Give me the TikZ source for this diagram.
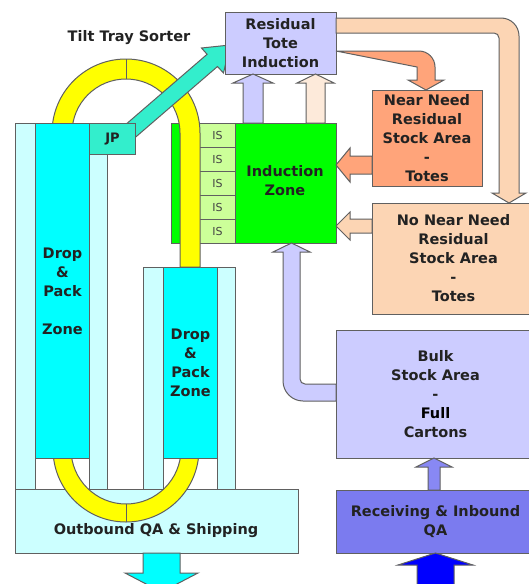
\documentclass[tikz,border=0pt]{standalone}
\usepackage{fontspec}
\setmainfont{DejaVu Sans}
\definecolor{lav}{HTML}{CCCCFF}
\definecolor{lcyan}{HTML}{CCFFFF}
\definecolor{cyanc}{HTML}{00FFFF}
\definecolor{turq}{HTML}{33EECC}
\definecolor{yel}{HTML}{FFFF00}
\definecolor{grn}{HTML}{00FF00}
\definecolor{isg}{HTML}{CCFF99}
\definecolor{salm}{HTML}{FFA47A}
\definecolor{peach}{HTML}{FCD5B4}
\definecolor{lpeach}{HTML}{FDEADA}
\definecolor{recv}{HTML}{7B7BEF}
\definecolor{recarr}{HTML}{8888F4}
\definecolor{bord}{HTML}{606060}
\definecolor{txt}{HTML}{222222}
\definecolor{istxt}{HTML}{444444}
\begin{document}
\begin{tikzpicture}[x=1pt,y=-1pt,line join=miter]
\tikzset{
  ol/.style={draw=bord, line width=1pt},
  box/.style={ol, inner sep=0pt, align=center, text=txt, font=\bfseries\fontsize{14.5}{19}\selectfont},
  lbl/.style={inner sep=0pt, align=center, text=txt, font=\bfseries\fontsize{14.5}{19}\selectfont},
}
\useasboundingbox (0,0) rectangle (529,584);
\fill[white] (0,0) rectangle (529,584);

% Induction zone block
\node[ol, fill=grn, minimum width=165pt, minimum height=120pt, anchor=north west, inner sep=0pt] (ind) at (171,123) {};
\foreach \k in {0,...,4}{
  \node[ol, fill=isg, minimum width=36pt, minimum height=24pt, anchor=north west, inner sep=0pt, text=istxt, font=\fontsize{11}{12}\selectfont] (is\k) at (199,{123+24*\k}) {IS};
}
\node[lbl] (indt) at (285,181) {Induction\\Zone};

% upper yellow loop
\path[ol, fill=yel] (52,145) -- (52,133) arc[start angle=180,end angle=0,radius=74pt] -- (200,267) -- (180,267) -- (180,133) arc[start angle=0,end angle=180,radius=54pt] -- (72,145) -- cycle;
\draw[ol] (126,59) -- (126,79);

% Outbound box
\node[ol, fill=lcyan, minimum width=283pt, minimum height=64pt, anchor=north west, inner sep=0pt] (out) at (15,489) {};
\node[lbl] (outt) at (156,531) {Outbound QA \& Shipping};

% lower yellow loop
\path[ol, fill=yel] (53,445) -- (53,449) arc[start angle=180,end angle=360,radius=73pt] -- (199,445) -- (181,445) -- (181,449) arc[start angle=0,end angle=-180,radius=55pt] -- (71,445) -- cycle;
\draw[ol] (126,504) -- (126,522);

% left tower
\draw[ol, fill=lcyan] (15,123) rectangle (35,489);
\draw[ol, fill=lcyan] (89,123) rectangle (107,489);
\node[box, fill=cyanc, minimum width=54pt, minimum height=335pt, anchor=north west] (dp1) at (35,123) {Drop\\\&\\Pack\\\mbox{}\\Zone};

% second tower
\draw[ol, fill=lcyan] (143,267) rectangle (163,489);
\draw[ol, fill=lcyan] (217,267) rectangle (235,489);
\node[box, fill=cyanc, minimum width=54pt, minimum height=191pt, anchor=north west] (dp2) at (163,267) {Drop\\\&\\Pack\\Zone};

% tilt tray sorter arrow
\path[ol, fill=turq] (125.2,146.1) -- (217.5,66.5) -- (223.5,73) -- (230,45) -- (201.5,48) -- (207.1,54.3) -- (114.8,133.9) -- cycle;
\node[ol, fill=turq, minimum width=46pt, minimum height=31pt, anchor=north west, inner sep=0pt, text=txt, font=\bfseries\fontsize{13}{15}\selectfont] (jp) at (89,123) {JP};
\node[lbl] (tts) at (129,38) {Tilt Tray Sorter};

% boxes on the right
\node[box, fill=lav, minimum width=111pt, minimum height=62pt] (res) at (280.5,43) {Residual\\Tote\\Induction};
\node[box, fill=salm, minimum width=110pt, minimum height=96pt] (near) at (427,138) {Near Need\\Residual\\Stock Area\\-\\Totes};
\node[box, fill=peach, minimum width=163pt, minimum height=111pt] (nonear) at (453.5,258.5) {No Near Need\\Residual\\Stock Area\\-\\Totes};
\node[box, fill=lav, minimum width=199pt, minimum height=128pt] (bulk) at (435.5,394) {Bulk\\Stock Area\\-\\{\color{black}Full}\\Cartons};
\node[box, fill=recv, minimum width=199pt, minimum height=63pt] (recv) at (435.5,521.5) {Receiving \& Inbound\\QA};

% arrows induction -> residual
\path[ol, fill=lav] (243,123) -- (243,83) -- (233,83) -- (253,74) -- (273,83) -- (263,83) -- (263,123) -- cycle;
\path[ol, fill=lpeach] (306,123) -- (306,83) -- (297,83) -- (315.5,74) -- (334,83) -- (325,83) -- (325,123) -- cycle;

% residual -> near need
\path[ol, fill=salm] (336,51) -- (419,51) .. controls (427.8,51) and (435,58.2) .. (435,67) -- (435,80) -- (444,80) -- (426,90) -- (408,80) -- (417,80) -- (417,67) -- cycle;
% residual -> no near need
\path[ol, fill=peach] (336,18) -- (501,18) .. controls (511,18) and (519,26) .. (519,36) -- (519,193) -- (526,193) -- (509,203) -- (492,193) -- (499,193) -- (499,38) .. controls (499,35.2) and (496.8,33) .. (494,33) -- (336,33) -- cycle;

% near need -> induction
\path[ol, fill=salm] (372,156) -- (350,156) -- (350,148) -- (336,165) -- (350,182) -- (350,174) -- (372,174) -- cycle;
% no near need -> induction
\path[ol, fill=peach] (372,219) -- (350,219) -- (350,212) -- (336,226) -- (350,240) -- (350,233) -- (372,233) -- cycle;

% bulk -> induction
\path[ol, fill=lav] (336,384) -- (305,384) .. controls (302.2,384) and (300,381.8) .. (300,379) -- (300,252) -- (310,252) -- (291.5,243) -- (273,252) -- (283,252) -- (283,381) .. controls (283,392) and (292,401) .. (303,401) -- (336,401) -- cycle;

% receiving -> bulk
\path[ol, fill=recarr] (428,490) -- (428,467) -- (416,467) -- (434,458) -- (452,467) -- (440,467) -- (440,490) -- cycle;

% inbound blue arrow
\path[ol, fill=blue] (417,590) -- (417,565) -- (398,565) -- (435.5,553) -- (473,565) -- (454,565) -- (454,590) -- cycle;

% outbound cyan arrow
\path[ol, fill=cyanc] (143,553) -- (143,573) -- (125,573) -- (161.5,592) -- (198,573) -- (180,573) -- (180,553) -- cycle;
\end{tikzpicture}
\end{document}
